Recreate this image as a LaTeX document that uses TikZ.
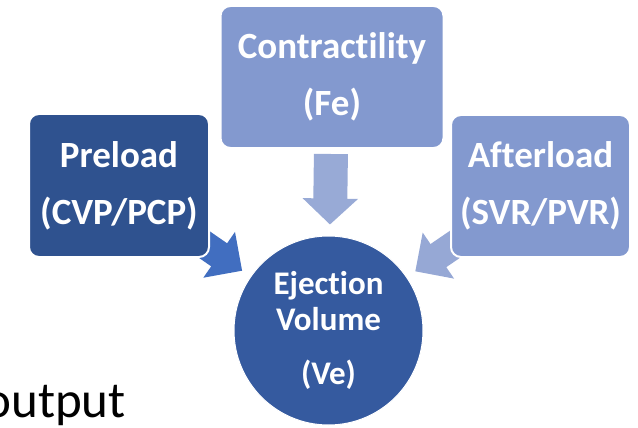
\documentclass[tikz,border=0pt]{standalone}
\usepackage{fontspec}
\setmainfont[RawFeature=-liga]{Carlito}
\usetikzlibrary{arrows.meta,backgrounds}
\definecolor{darkblue}{RGB}{47,82,143}
\definecolor{lightblue}{RGB}{131,153,207}
\definecolor{circblue}{RGB}{53,90,159}
\definecolor{arrowleft}{RGB}{65,110,192}
\definecolor{arrowtop}{RGB}{152,170,214}
\definecolor{arrowright}{RGB}{150,168,213}

\begin{document}
\begin{tikzpicture}[x=1pt,y=-1pt,
  box/.style={draw=white, line width=2pt, rounded corners=10pt, text=white,
    align=center, inner sep=0pt, font=\bfseries\fontsize{37}{57}\selectfont},
  blockarrow/.style={line width=28pt, -{Triangle[length=28pt,width=54pt]}}]
\useasboundingbox (0,0) rectangle (638,428);
\clip (0,0) rectangle (638,428);
\node [box, fill=lightblue, minimum width=223pt, minimum height=142pt] (con) at (332,77) {Contractility\\(Fe)};
\node [box, fill=darkblue, minimum width=180pt, minimum height=143pt] (pre) at (119,185.5) {Preload\\(CVP/PCP)};
\node [box, fill=lightblue, minimum width=179pt, minimum height=142pt] (aft) at (540.5,186) {Afterload\\(SVR/PVR)};
\node [circle, fill=circblue, draw=white, line width=1pt, minimum size=189pt, inner sep=0pt, text=white,
  align=center, font=\bfseries\fontsize{33}{36}\selectfont] (ev) at (328.5,330.5) {Ejection\\Volume\\[18pt](Ve)};
\node [anchor=base east, inner sep=0pt, font=\fontsize{51}{51}\selectfont] (out) at (126,417) {output};
% arrows into the volume
\begin{scope}[on background layer]
\draw [blockarrow, arrowleft, shorten >=10pt] (pre.center) -- (ev);
\draw [blockarrow, arrowright, shorten >=10pt] (aft.center) -- (ev);
\end{scope}
\draw [arrowtop, line width=34pt, -{Triangle[length=26pt,width=54pt]}, shorten <=5pt, shorten >=11pt] (con) -- (ev);
\end{tikzpicture}
\end{document}
